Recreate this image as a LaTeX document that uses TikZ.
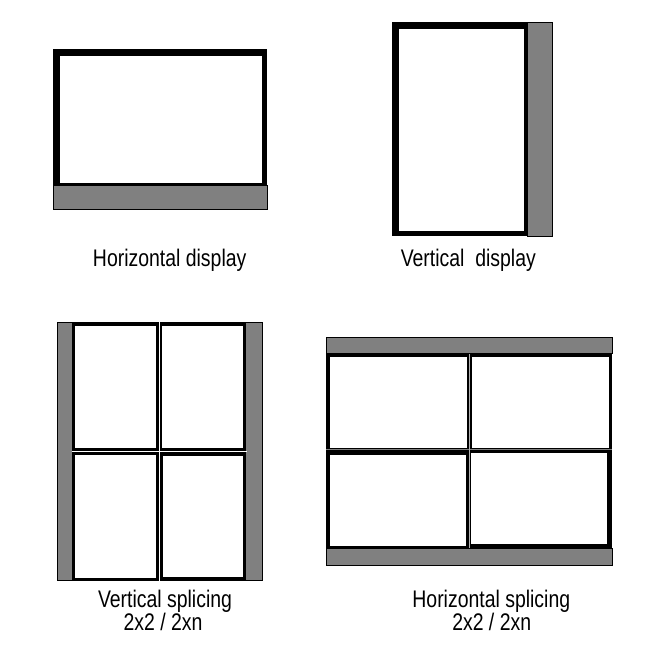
\documentclass[tikz,border=0pt]{standalone}
\usepackage{fontspec}
\newfontfamily\labfont[FakeStretch=0.81]{Liberation Sans}
\definecolor{bargray}{HTML}{808080}
\begin{document}
\begin{tikzpicture}[x=1pt,y=-1pt,
  bar/.style={fill=bargray,draw=black,line width=0.7pt},
  blk/.style={fill=black},
  scr/.style={fill=white},
  lab/.style={font=\labfont\fontsize{24}{24}\selectfont,anchor=base,inner sep=0pt}]
\useasboundingbox (0,0) rectangle (650,650);
% Horizontal display
\fill[blk] (53,49) rectangle (267,186);
\fill[scr] (60,56) rectangle (261.5,182.7);
\draw[bar] (53,185) rectangle (267,209);
% Vertical display
\fill[blk] (392,22) rectangle (528,236);
\fill[scr] (399,29) rectangle (524,230.7);
\draw[bar] (527,22) rectangle (552,236);
% Vertical splicing
\draw[bar] (57,322) rectangle (72.5,580);
\draw[bar] (245,322) rectangle (262,580);
\fill[blk] (72,322) rectangle (246,581);
\fill[scr] (75,326) rectangle (156,448.3);
\fill[scr] (162.3,326) rectangle (242.7,448.3);
\fill[scr] (75,455) rectangle (156,578);
\fill[scr] (163.3,455.7) rectangle (243.3,576.7);
\draw[white,line width=1pt] (71.7,451) -- (246.7,451);
\draw[white,line width=0.8pt] (159,322) -- (159,581);
% Horizontal splicing
\fill[blk] (326,352.7) rectangle (612,548.5);
\fill[scr] (330,356.7) rectangle (466.7,448.3);
\fill[scr] (472.3,356.7) rectangle (609.3,448.3);
\fill[scr] (330,455) rectangle (466,546);
\fill[scr] (470.7,453.3) rectangle (607.3,544.3);
\draw[bargray,line width=1pt] (326,449.3) -- (612,449.3);
\draw[bargray!60,line width=0.9pt] (469,353) -- (469,548);
\draw[bar] (326,337) rectangle (612,353);
\draw[bar] (326,548.5) rectangle (612,565);
% Labels
\node[lab] (l1) at (169.7,266.7) {Horizontal display};
\node[lab] (l2) at (468.3,266.7) {Vertical\ \ display};
\node[lab] (l3) at (165,607.3) {Vertical splicing};
\node[lab] (l3b) at (163,630.7) {2x2 / 2xn};
\node[lab] (l4) at (491.3,607.3) {Horizontal splicing};
\node[lab] (l4b) at (491.7,630.7) {2x2 / 2xn};
\end{tikzpicture}
\end{document}
